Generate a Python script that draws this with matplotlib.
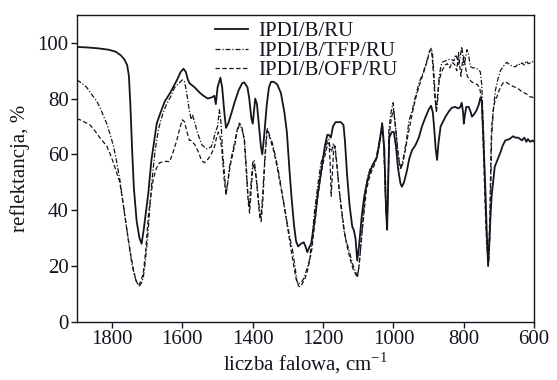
import matplotlib
matplotlib.use("Agg")
import matplotlib.pyplot as plt

plt.rcParams["font.family"] = ["Liberation Serif", "DejaVu Serif"]
plt.rcParams["mathtext.fontset"] = "custom"
plt.rcParams["mathtext.rm"] = "Liberation Serif"

labels = ["IPDI/B/RU", "IPDI/B/TFP/RU", "IPDI/B/OFP/RU"]

# IPDI/B/RU
wn_ru = [1900, 1870, 1840, 1810, 1790, 1775, 1765, 1757, 1752, 1748, 1743, 1738,
         1730, 1722, 1716, 1710, 1703, 1697, 1688, 1680, 1673, 1665, 1650, 1635,
         1616, 1605, 1597, 1590, 1585, 1580, 1570, 1565, 1550, 1540, 1528, 1515,
         1509, 1505, 1500, 1492, 1487, 1480, 1476, 1470, 1460, 1452, 1440, 1430,
         1424, 1415, 1410, 1404, 1400, 1396, 1393, 1388, 1382, 1377, 1373, 1368,
         1360, 1354, 1348, 1340, 1330, 1320, 1310, 1303, 1296, 1290, 1283, 1277,
         1271, 1263, 1255, 1250, 1245, 1240, 1234, 1228, 1222, 1216, 1209, 1202,
         1195, 1188, 1184, 1178, 1172, 1165, 1150, 1142, 1138, 1132, 1125, 1117,
         1113, 1108, 1103, 1098, 1090, 1083, 1075, 1069, 1060, 1047, 1040, 1032,
         1026, 1021, 1018, 1015, 1012, 1005, 999, 993, 987, 980, 976, 970,
         962, 955, 947, 937, 928, 919, 910, 900, 893, 888, 884, 880,
         876, 872, 866, 858, 852, 842, 834, 825, 815, 810, 806, 802,
         800, 797, 793, 786, 780, 777, 770, 763, 757, 753, 749, 745,
         741, 738, 735, 731, 728, 724, 721, 716, 712, 706, 701, 695,
         690, 682, 670, 660, 653, 645, 640, 635, 628, 622, 618, 611,
         605, 600]
r_ru = [98.5, 98.3, 98.0, 97.5, 96.8, 95.5, 94, 92, 88, 78, 62, 48,
        36, 30, 28, 33, 40, 46, 58, 65, 71, 74, 79, 82,
        86.5, 89.5, 90.7, 89.5, 87, 85.5, 84.5, 84, 82, 81, 80, 80.5,
        81, 78, 84, 87.5, 84, 74, 69.5, 71, 75, 78.5, 83, 85.5,
        85.8, 84, 80, 73, 71, 76, 80, 78, 70, 63, 60, 66,
        78, 84, 86, 86, 85, 82, 75, 68, 55, 45, 35, 29,
        27, 28, 28.5, 27, 25, 26.5, 28, 33, 38, 45, 51, 57,
        63, 67, 67, 66, 70, 71.5, 71.6, 70.5, 65, 53, 42, 34,
        33, 30, 22, 27, 38, 45, 50, 53, 56, 59, 64, 71,
        62, 40, 33, 50, 66, 68, 68, 63, 55, 49.5, 48.4, 50,
        54, 58.5, 61.5, 63.4, 66, 70, 73, 76, 77.4, 75, 69, 62,
        58, 64, 70, 72, 73.5, 75.5, 76.7, 77, 76.5, 77, 78.5, 75,
        71, 74, 77, 77, 75, 73.5, 74.5, 76, 78, 80.3, 79, 68,
        55, 45, 33, 20, 27, 38, 45, 51, 55.6, 57.5, 59, 61,
        63, 65, 65.5, 66.5, 66, 66, 65.5, 65, 66, 64.5, 65.5, 64.5,
        65, 64.5]

# IPDI/B/TFP/RU
wn_tfp = [1900, 1886, 1872, 1858, 1843, 1830, 1815, 1805, 1796, 1787, 1778, 1768,
          1758, 1750, 1744, 1737, 1730, 1722, 1716, 1711, 1705, 1697, 1692, 1687,
          1678, 1668, 1656, 1645, 1632, 1622, 1610, 1600, 1594, 1589, 1585, 1580,
          1575, 1571, 1566, 1557, 1545, 1532, 1518, 1512, 1507, 1500, 1495, 1490,
          1486, 1480, 1476, 1471, 1466, 1459, 1452, 1445, 1438, 1432, 1424, 1418,
          1414, 1410, 1406, 1400, 1396, 1390, 1384, 1380, 1377, 1372, 1366, 1362,
          1359, 1355, 1350, 1344, 1335, 1324, 1315, 1305, 1296, 1287, 1280, 1275,
          1271, 1266, 1260, 1253, 1246, 1239, 1232, 1225, 1215, 1206, 1198, 1192,
          1188, 1184, 1180, 1176, 1171, 1166, 1160, 1150, 1140, 1132, 1125, 1117,
          1111, 1107, 1102, 1097, 1089, 1083, 1079, 1072, 1066, 1058, 1050, 1043,
          1036, 1032, 1027, 1022, 1018, 1015, 1013, 1007, 1001, 996, 990, 985,
          980, 975, 970, 963, 956, 951, 946, 937, 927, 920, 913, 906,
          899, 895, 892, 889, 885, 882, 878, 874, 871, 866, 862, 852,
          842, 835, 828, 823, 818, 815, 811, 806, 803, 800, 796, 791,
          787, 781, 774, 767, 760, 753, 749, 745, 741, 738, 735, 732,
          729, 726, 723, 721, 716, 710, 703, 696, 688, 678, 668, 660,
          653, 645, 640, 635, 628, 622, 617, 611, 605, 600]
r_tfp = [86.7, 85.5, 84, 81.5, 79, 75.5, 71, 67, 63, 57.5, 51, 42,
         33, 26, 21, 17, 14, 12.9, 14, 16, 22, 33, 42, 50,
         61, 69, 74.5, 78, 81, 84, 85.5, 86.7, 86, 83, 79.6, 75.5,
         72.5, 74, 72, 67.7, 63.5, 62, 62.7, 65, 67.7, 70, 76, 71,
         61.6, 52, 46, 50, 55.6, 60, 64, 68, 70.6, 69.5, 66, 55,
         46, 41, 48, 57, 58, 52, 44, 39, 37, 45, 58, 65,
         69.5, 68, 66, 64, 59, 52, 45, 37.6, 31, 25.8, 20, 15,
         13.5, 14, 14.5, 16, 19, 22, 29, 39, 49, 57, 60, 62,
         65, 65.5, 62, 61, 64, 62, 55, 42, 32, 28, 25, 21,
         19, 17.6, 16, 21, 33, 42, 48, 52.5, 55, 56.5, 58, 63,
         67.7, 71.3, 62, 42, 34, 50, 69, 75, 78.5, 72, 64, 58,
         54.5, 57, 60, 65, 72, 74, 76, 81, 85.7, 88, 90.3, 93,
         96.4, 97.5, 98, 96, 89, 82, 75, 80, 86.7, 91, 93, 93.5,
         94, 94, 93.5, 95.7, 94, 92, 94, 98.6, 96, 92, 94, 97.5,
         96, 91.4, 91, 91, 90.5, 89.6, 85, 72, 55, 40, 30, 24,
         22, 30, 50, 66, 76, 83, 87, 90, 91.5, 93, 92, 91.5,
         91.4, 92.5, 92, 92.8, 92, 93.5, 92.5, 92.8, 93.2, 93]

# IPDI/B/OFP/RU
wn_ofp = [1900, 1891, 1877, 1863, 1849, 1835, 1825, 1815, 1805, 1796, 1787, 1778,
          1768, 1758, 1748, 1739, 1732, 1725, 1718, 1711, 1704, 1697, 1690, 1683,
          1674, 1665, 1653, 1645, 1636, 1626, 1616, 1607, 1600, 1594, 1587, 1580,
          1575, 1565, 1555, 1546, 1538, 1532, 1518, 1509, 1503, 1498, 1494, 1488,
          1482, 1476, 1471, 1464, 1457, 1450, 1444, 1438, 1431, 1424, 1418, 1413,
          1409, 1405, 1400, 1396, 1390, 1384, 1380, 1376, 1371, 1366, 1362, 1359,
          1354, 1347, 1340, 1330, 1320, 1310, 1300, 1290, 1282, 1276, 1270, 1265,
          1260, 1253, 1246, 1239, 1232, 1225, 1216, 1206, 1198, 1192, 1187, 1183,
          1180, 1177, 1174, 1170, 1166, 1162, 1155, 1145, 1138, 1130, 1122, 1115,
          1109, 1103, 1098, 1090, 1083, 1077, 1070, 1062, 1055, 1048, 1040, 1034,
          1031, 1027, 1022, 1018, 1015, 1012, 1006, 1000, 995, 989, 983, 978,
          973, 967, 960, 953, 946, 937, 927, 918, 910, 903, 897, 893,
          890, 886, 882, 878, 874, 870, 865, 860, 853, 847, 840, 833,
          825, 820, 815, 812, 808, 804, 800, 795, 790, 785, 778, 770,
          762, 755, 750, 746, 742, 738, 735, 732, 729, 726, 723, 721,
          716, 711, 706, 701, 696, 689, 682, 675, 670, 662, 653, 645,
          640, 635, 627, 620, 611, 605, 600]
r_ofp = [72.7, 72.4, 71.5, 70.6, 68.5, 66, 64.5, 63, 60, 57, 53.5, 50,
         42, 33, 25, 18.6, 15, 13, 14.5, 17.6, 26, 37.6, 45, 51,
         55, 57, 57.4, 57.5, 57.4, 61, 65, 69.5, 72.4, 71.7, 68, 65,
         65, 63.5, 61, 58, 57, 57.5, 60, 62.7, 66, 68, 67, 62,
         52, 45.5, 50, 56, 60, 64, 69, 71.2, 70, 65, 53, 43,
         39, 46, 55, 56.5, 51, 43, 37.5, 36, 44, 57, 64, 68.5,
         67, 64, 61, 55, 48, 41, 33, 25, 19, 15, 12.9, 12.5,
         13.5, 15, 17.5, 21.5, 26, 34, 44, 53, 58, 61, 64, 64,
         57, 45, 52, 62, 63, 58, 48, 38, 31, 26, 22, 19,
         17.5, 16, 20, 31, 40, 47, 51, 54, 56, 58.5, 64, 68,
         70, 62, 42, 35, 50, 67, 73, 76, 71, 63, 57, 55,
         57, 61, 66, 70.5, 75, 80, 84.5, 88, 91, 94, 97, 97.5,
         95, 88, 80, 76, 82, 86, 89, 90.5, 92, 92.5, 91, 93,
         92, 90, 96.5, 92, 88, 93, 95, 91, 88, 87, 86, 85.5,
         85, 84, 80, 68, 52, 37, 28, 24, 25, 38, 60, 70,
         76, 79.5, 80.6, 82.5, 84, 85.5, 86, 85.5, 85, 84.5, 84, 83.5,
         83, 82.4, 82, 81.5, 80.6, 80.5, 80.2]

ink = "#15151f"

fig = plt.figure(figsize=(5.57, 3.80), dpi=100)
ax = fig.add_axes([0.138, 0.153, 0.821, 0.808])

ax.plot(wn_ru, r_ru, color=ink, lw=1.3, ls="-", label=labels[0])
ax.plot(wn_tfp, r_tfp, color=ink, lw=0.9, ls=(0, (4, 1.5, 1, 1.5)), label=labels[1])
ax.plot(wn_ofp, r_ofp, color=ink, lw=0.9, ls=(0, (3.5, 2)), label=labels[2])

ax.set_xlim(1900, 600)
ax.set_ylim(0, 110)
ax.set_xticks([1800, 1600, 1400, 1200, 1000, 800, 600])
ax.set_yticks([0, 20, 40, 60, 80, 100])
ax.tick_params(direction="out", length=4, width=1, labelsize=15, pad=2,
               colors=ink)
for sp in ax.spines.values():
    sp.set_linewidth(1.0)
    sp.set_color(ink)

ax.set_xlabel("liczba falowa, cm$^{-1}$", fontsize=15, color=ink, labelpad=1)
ax.set_ylabel("reflektancja, %", fontsize=15, color=ink, labelpad=5)

ax.legend(loc="upper left", bbox_to_anchor=(0.27, 1.025), frameon=False,
          fontsize=15, labelspacing=0.0, handlelength=1.6, handletextpad=0.5,
          borderpad=0.2, labelcolor=ink)

fig.savefig("out.png", dpi=100)
